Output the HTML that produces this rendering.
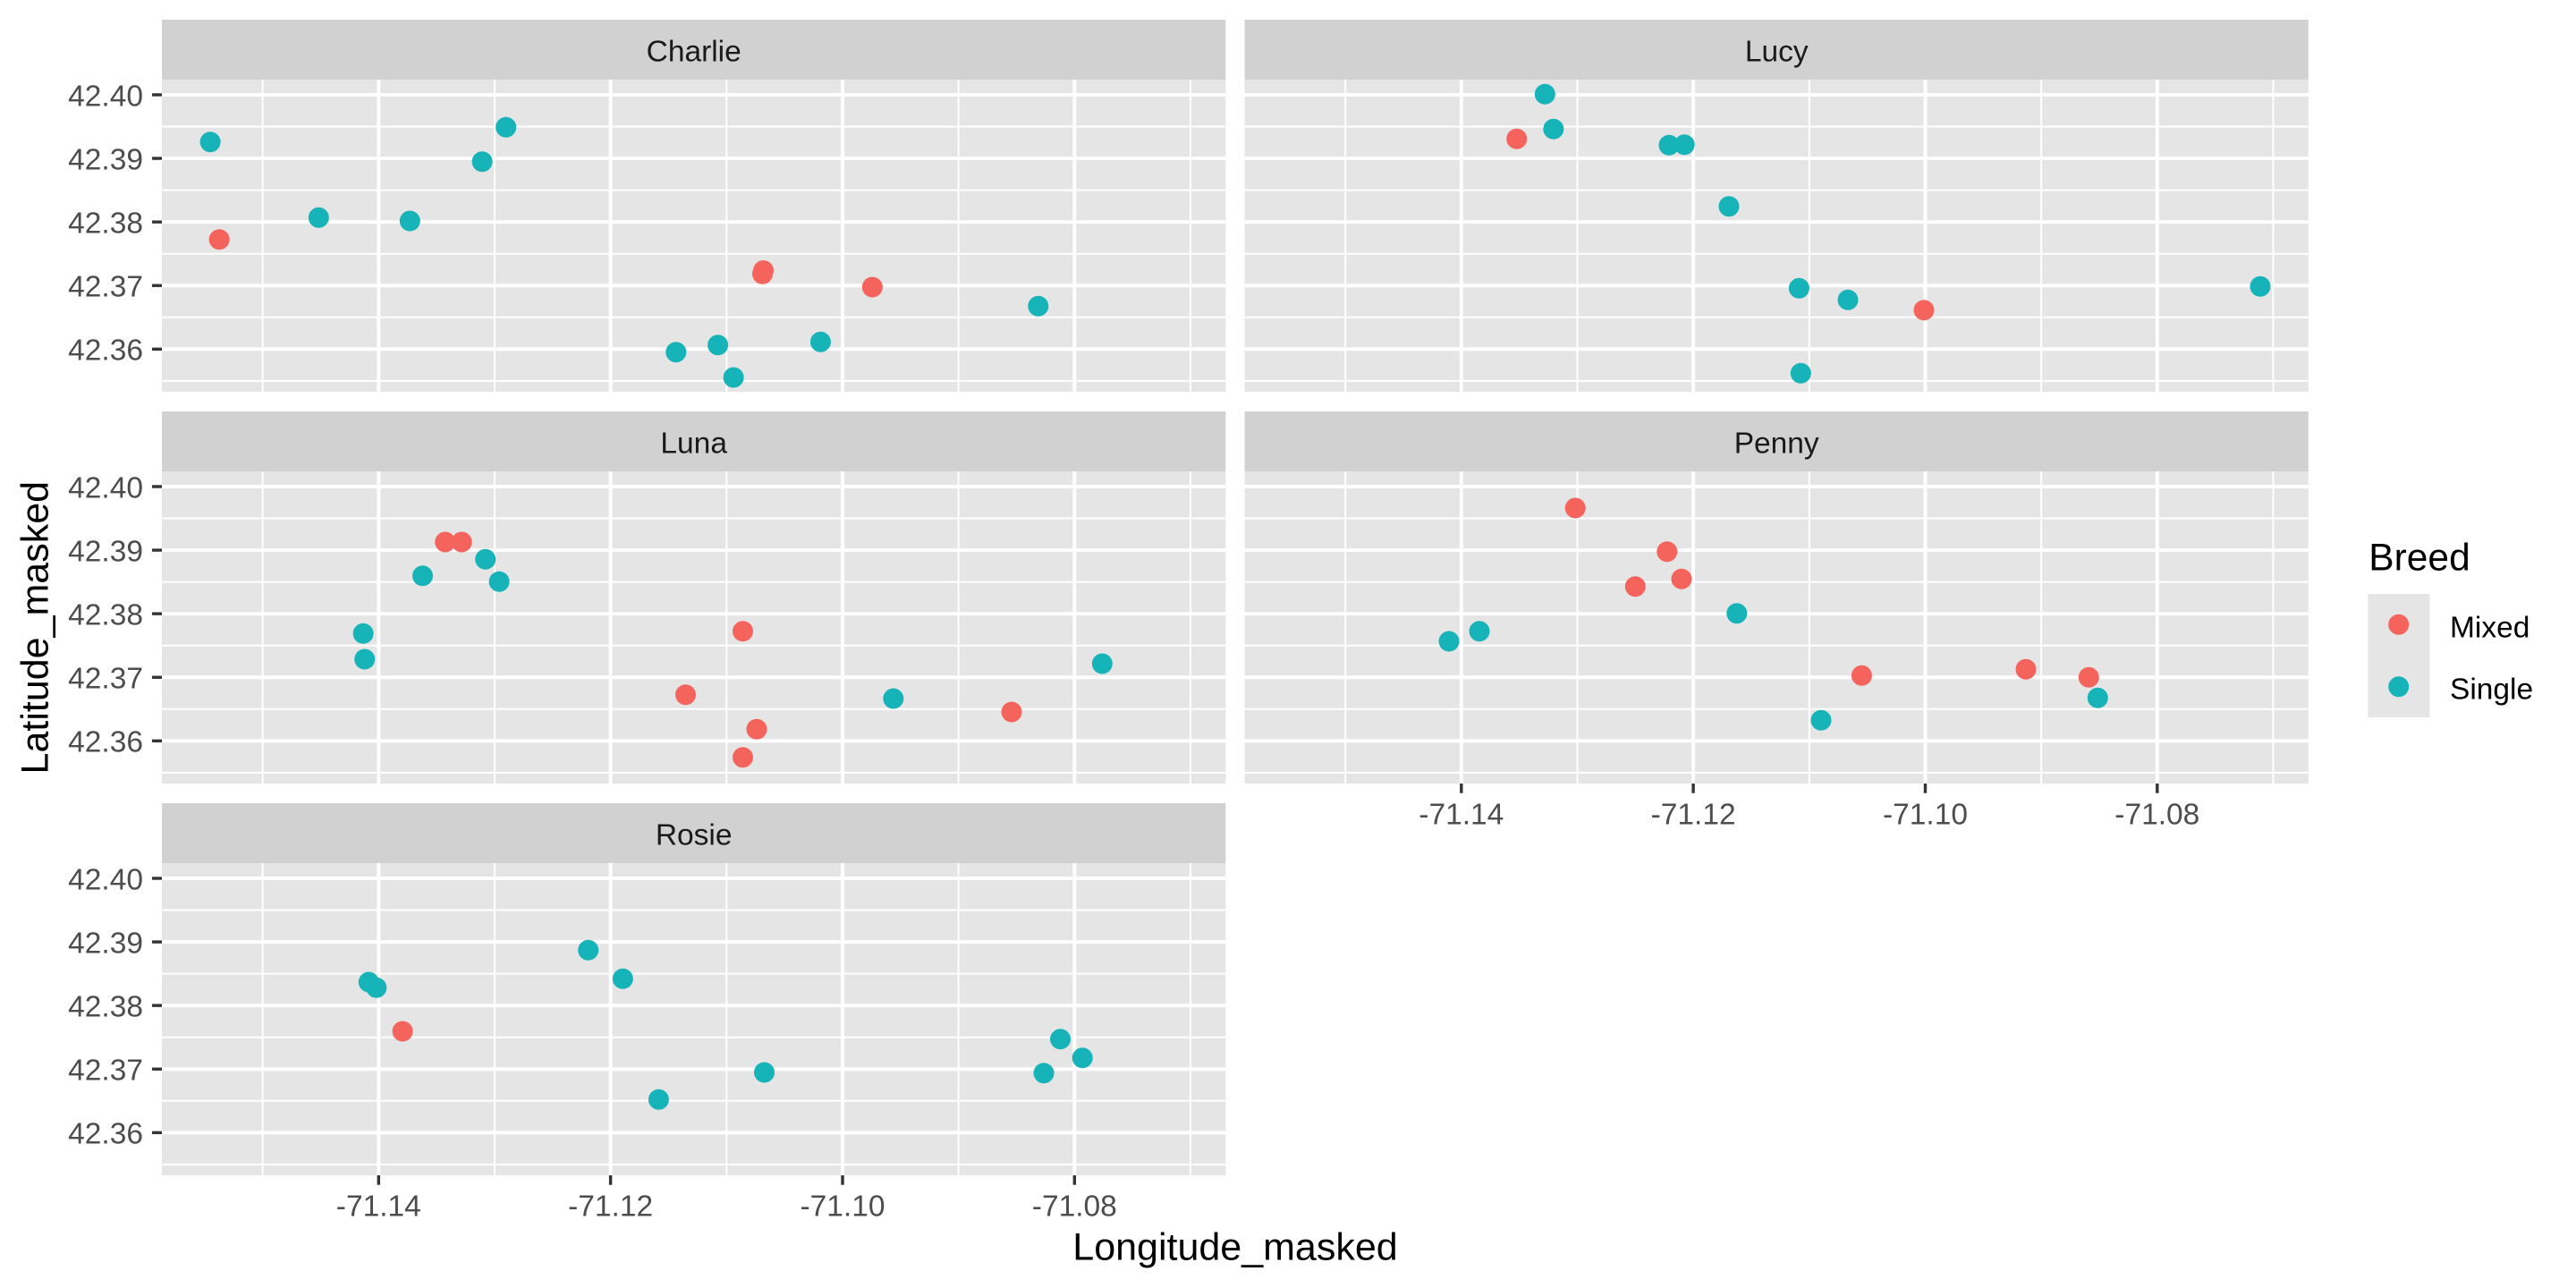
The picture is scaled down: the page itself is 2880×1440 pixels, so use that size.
<!DOCTYPE html>
<html>
<head>
<meta charset="utf-8">
<style>
html,body{margin:0;padding:0;background:#fff;}
svg{display:block;}
text{font-family:"Liberation Sans",Arial,sans-serif;}
</style>
</head>
<body>
<svg width="2880" height="1440" viewBox="0 0 2880 1440" xmlns="http://www.w3.org/2000/svg">
<defs>
  <g id="panel">
    <rect x="0" y="0" width="1189.3" height="349" fill="#E5E5E5"/>
    <g stroke="#ffffff" stroke-width="2">
      <line x1="0" x2="1189.3" y1="52.54" y2="52.54"/>
      <line x1="0" x2="1189.3" y1="123.62" y2="123.62"/>
      <line x1="0" x2="1189.3" y1="194.7" y2="194.7"/>
      <line x1="0" x2="1189.3" y1="265.78" y2="265.78"/>
      <line x1="0" x2="1189.3" y1="336.86" y2="336.86"/>
      <line y1="0" y2="349" x1="112.6" x2="112.6"/>
      <line y1="0" y2="349" x1="372" x2="372"/>
      <line y1="0" y2="349" x1="631.3" x2="631.3"/>
      <line y1="0" y2="349" x1="890.6" x2="890.6"/>
      <line y1="0" y2="349" x1="1149.9" x2="1149.9"/>
    </g>
    <g stroke="#ffffff" stroke-width="3.9">
      <line x1="0" x2="1189.3" y1="17" y2="17"/>
      <line x1="0" x2="1189.3" y1="88.08" y2="88.08"/>
      <line x1="0" x2="1189.3" y1="159.16" y2="159.16"/>
      <line x1="0" x2="1189.3" y1="230.24" y2="230.24"/>
      <line x1="0" x2="1189.3" y1="301.32" y2="301.32"/>
      <line y1="0" y2="349" x1="242.3" x2="242.3"/>
      <line y1="0" y2="349" x1="501.6" x2="501.6"/>
      <line y1="0" y2="349" x1="761" x2="761"/>
      <line y1="0" y2="349" x1="1020.3" x2="1020.3"/>
    </g>
  </g>
  <g id="yticks">
    <g stroke="#333333" stroke-width="3.4">
      <line x1="170" x2="181" y1="17" y2="17"/>
      <line x1="170" x2="181" y1="88.08" y2="88.08"/>
      <line x1="170" x2="181" y1="159.16" y2="159.16"/>
      <line x1="170" x2="181" y1="230.24" y2="230.24"/>
      <line x1="170" x2="181" y1="301.32" y2="301.32"/>
    </g>
    <g fill="#4D4D4D" font-size="33.5" text-anchor="end">
      <text x="160" y="29.3">42.40</text>
      <text x="160" y="100.4">42.39</text>
      <text x="160" y="171.5">42.38</text>
      <text x="160" y="242.5">42.37</text>
      <text x="160" y="313.6">42.36</text>
    </g>
  </g>
  <g id="xticks">
    <g stroke="#333333" stroke-width="3.4">
      <line x1="242.3" x2="242.3" y1="349" y2="359.7"/>
      <line x1="501.6" x2="501.6" y1="349" y2="359.7"/>
      <line x1="761" x2="761" y1="349" y2="359.7"/>
      <line x1="1020.3" x2="1020.3" y1="349" y2="359.7"/>
    </g>
    <g fill="#4D4D4D" font-size="33.5" text-anchor="middle">
      <text x="242.3" y="394.5">-71.14</text>
      <text x="501.6" y="394.5">-71.12</text>
      <text x="761" y="394.5">-71.10</text>
      <text x="1020.3" y="394.5">-71.08</text>
    </g>
  </g>
</defs>

<!-- strips -->
<g fill="#D1D1D1">
  <rect x="181" y="22" width="1189.3" height="67"/>
  <rect x="1391.5" y="22" width="1189.3" height="67"/>
  <rect x="181" y="460" width="1189.3" height="67"/>
  <rect x="1391.5" y="460" width="1189.3" height="67"/>
  <rect x="181" y="898" width="1189.3" height="67"/>
</g>
<g fill="#1A1A1A" font-size="33.5" text-anchor="middle">
  <text x="775.7" y="68.3">Charlie</text>
  <text x="1986.2" y="68.3">Lucy</text>
  <text x="775.7" y="506.3">Luna</text>
  <text x="1986.2" y="506.3">Penny</text>
  <text x="775.7" y="944.3">Rosie</text>
</g>

<!-- panels -->
<use href="#panel" transform="translate(181,89)"/>
<use href="#panel" transform="translate(1391.5,89)"/>
<use href="#panel" transform="translate(181,527)"/>
<use href="#panel" transform="translate(1391.5,527)"/>
<use href="#panel" transform="translate(181,965)"/>

<!-- axes -->
<use href="#yticks" transform="translate(0,89)"/>
<use href="#yticks" transform="translate(0,527)"/>
<use href="#yticks" transform="translate(0,965)"/>
<use href="#xticks" transform="translate(1391.5,527)"/>
<use href="#xticks" transform="translate(181,965)"/>

<!-- points: Charlie -->
<g stroke="none">
<circle cx="235.1" cy="158.7" r="11.5" fill="#16B4B8"/>
<circle cx="245.2" cy="267.7" r="11.5" fill="#F5635D"/>
<circle cx="356.3" cy="243.3" r="11.5" fill="#16B4B8"/>
<circle cx="458.3" cy="247" r="11.5" fill="#16B4B8"/>
<circle cx="539.1" cy="180.7" r="11.5" fill="#16B4B8"/>
<circle cx="565.7" cy="142.3" r="11.5" fill="#16B4B8"/>
<circle cx="853.5" cy="302.5" r="11.5" fill="#F5635D"/>
<circle cx="852.5" cy="306.2" r="11.5" fill="#F5635D"/>
<circle cx="975.3" cy="321" r="11.5" fill="#F5635D"/>
<circle cx="1160.8" cy="342.3" r="11.5" fill="#16B4B8"/>
<circle cx="755.8" cy="393.7" r="11.5" fill="#16B4B8"/>
<circle cx="802.6" cy="385.7" r="11.5" fill="#16B4B8"/>
<circle cx="917.4" cy="382.3" r="11.5" fill="#16B4B8"/>
<circle cx="820.1" cy="422" r="11.5" fill="#16B4B8"/>

<!-- Lucy -->
<circle cx="1727.3" cy="105.3" r="11.5" fill="#16B4B8"/>
<circle cx="1736.8" cy="144.3" r="11.5" fill="#16B4B8"/>
<circle cx="1695.7" cy="155.3" r="11.5" fill="#F5635D"/>
<circle cx="1866" cy="162.3" r="11.5" fill="#16B4B8"/>
<circle cx="1883.2" cy="161.7" r="11.5" fill="#16B4B8"/>
<circle cx="1933" cy="230.7" r="11.5" fill="#16B4B8"/>
<circle cx="2011.4" cy="322.3" r="11.5" fill="#16B4B8"/>
<circle cx="2066" cy="335.3" r="11.5" fill="#16B4B8"/>
<circle cx="2151" cy="346.7" r="11.5" fill="#F5635D"/>
<circle cx="2527" cy="320.3" r="11.5" fill="#16B4B8"/>
<circle cx="2013.3" cy="417.3" r="11.5" fill="#16B4B8"/>

<!-- Luna -->
<circle cx="497.7" cy="606" r="11.5" fill="#F5635D"/>
<circle cx="516.2" cy="606" r="11.5" fill="#F5635D"/>
<circle cx="542.7" cy="625.3" r="11.5" fill="#16B4B8"/>
<circle cx="472.5" cy="643.7" r="11.5" fill="#16B4B8"/>
<circle cx="558.1" cy="650.3" r="11.5" fill="#16B4B8"/>
<circle cx="406.1" cy="708.3" r="11.5" fill="#16B4B8"/>
<circle cx="407.7" cy="737" r="11.5" fill="#16B4B8"/>
<circle cx="830.5" cy="705.7" r="11.5" fill="#F5635D"/>
<circle cx="1232.3" cy="742" r="11.5" fill="#16B4B8"/>
<circle cx="766.5" cy="776.7" r="11.5" fill="#F5635D"/>
<circle cx="998.8" cy="781" r="11.5" fill="#16B4B8"/>
<circle cx="1131" cy="796" r="11.5" fill="#F5635D"/>
<circle cx="846" cy="815.3" r="11.5" fill="#F5635D"/>
<circle cx="830.5" cy="846.7" r="11.5" fill="#F5635D"/>

<!-- Penny -->
<circle cx="1761.2" cy="568" r="11.5" fill="#F5635D"/>
<circle cx="1863.8" cy="616.7" r="11.5" fill="#F5635D"/>
<circle cx="1828.3" cy="655.7" r="11.5" fill="#F5635D"/>
<circle cx="1880" cy="647.3" r="11.5" fill="#F5635D"/>
<circle cx="1941.8" cy="685.7" r="11.5" fill="#16B4B8"/>
<circle cx="1654" cy="705.7" r="11.5" fill="#16B4B8"/>
<circle cx="1620" cy="717" r="11.5" fill="#16B4B8"/>
<circle cx="2081.4" cy="755.3" r="11.5" fill="#F5635D"/>
<circle cx="2265" cy="748.3" r="11.5" fill="#F5635D"/>
<circle cx="2335.3" cy="757.3" r="11.5" fill="#F5635D"/>
<circle cx="2345.3" cy="780.3" r="11.5" fill="#16B4B8"/>
<circle cx="2036" cy="805.3" r="11.5" fill="#16B4B8"/>

<!-- Rosie -->
<circle cx="657.7" cy="1062.3" r="11.5" fill="#16B4B8"/>
<circle cx="696.3" cy="1094.3" r="11.5" fill="#16B4B8"/>
<circle cx="412.3" cy="1098" r="11.5" fill="#16B4B8"/>
<circle cx="420.8" cy="1104.3" r="11.5" fill="#16B4B8"/>
<circle cx="450.1" cy="1153" r="11.5" fill="#F5635D"/>
<circle cx="1185.5" cy="1161.7" r="11.5" fill="#16B4B8"/>
<circle cx="1210.2" cy="1182.7" r="11.5" fill="#16B4B8"/>
<circle cx="1167" cy="1199.7" r="11.5" fill="#16B4B8"/>
<circle cx="854.5" cy="1199" r="11.5" fill="#16B4B8"/>
<circle cx="736.4" cy="1229.3" r="11.5" fill="#16B4B8"/>
</g>

<!-- axis titles -->
<text x="1381" y="1408.3" font-size="43" fill="#000" text-anchor="middle">Longitude_masked</text>
<text transform="translate(53.3,701.7) rotate(-90)" x="0" y="0" font-size="43" fill="#000" text-anchor="middle">Latitude_masked</text>

<!-- legend -->
<text x="2648.3" y="637.7" font-size="42.5" fill="#000">Breed</text>
<rect x="2647.3" y="664" width="69" height="138" fill="#E5E5E5"/>
<circle cx="2681.7" cy="698.3" r="11.5" fill="#F5635D"/>
<circle cx="2681.7" cy="767.7" r="11.5" fill="#16B4B8"/>
<text x="2739" y="712.3" font-size="33.5" fill="#000">Mixed</text>
<text x="2739" y="781.6" font-size="33.5" fill="#000">Single</text>
</svg>
</body>
</html>
